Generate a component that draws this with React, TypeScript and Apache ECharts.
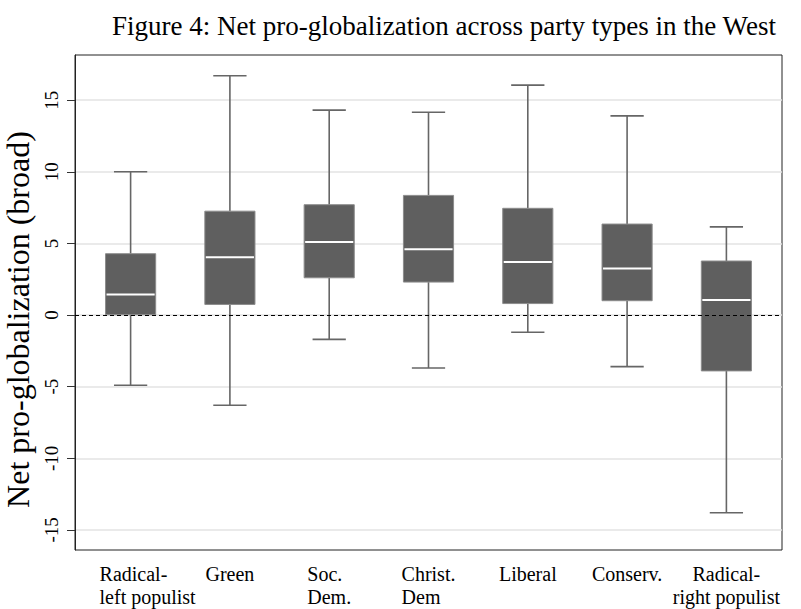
import React, { useEffect, useRef } from "react";
import * as echarts from "echarts";

const categories = [
  "Radical-\nleft populist",
  "Green",
  "Soc.\nDem.",
  "Christ.\nDem",
  "Liberal",
  "Conserv.",
  "Radical-\nright populist",
];
const whiskerLow = [-4.9, -6.3, -1.7, -3.7, -1.2, -3.6, -13.8];
const q1 = [0.02, 0.74, 2.6, 2.3, 0.8, 1.0, -3.9];
const median = [1.43, 4.03, 5.1, 4.6, 3.7, 3.25, 1.05];
const q3 = [4.28, 7.25, 7.7, 8.35, 7.45, 6.35, 3.77];
const whiskerHigh = [10.0, 16.7, 14.3, 14.15, 16.05, 13.9, 6.15];
const yTicks = [-15, -10, -5, 0, 5, 10, 15];

const FONT = "'Liberation Serif', 'Times New Roman', serif";

export default function App() {
  const ref = useRef<HTMLDivElement>(null);
  useEffect(() => {
    if (!ref.current) return;
    const chart = echarts.init(ref.current, undefined, { renderer: "svg" });
    const data = categories.map((_, i) => [
      i + 1,
      whiskerLow[i],
      q1[i],
      median[i],
      q3[i],
      whiskerHigh[i],
    ]);
    const catPositions = categories.map((_, i) => i + 1);
    const labelStyle = { fontFamily: FONT, fontSize: 20, lineHeight: 22.4, color: "#000" };
    chart.setOption({
      animation: false,
      backgroundColor: "#fff",
      title: {
        text: "Figure 4: Net pro-globalization across party types in the West",
        left: 107,
        top: 7,
        textStyle: { fontFamily: FONT, fontSize: 27, fontWeight: "normal", color: "#000" },
      },
      grid: {
        left: 75,
        right: 19,
        top: 55,
        bottom: 59,
        show: true,
        borderColor: "#222",
        borderWidth: 1,
        backgroundColor: "#fff",
        containLabel: false,
        outerBoundsMode: "none",
      },
      xAxis: {
        type: "value",
        min: 0.44,
        max: 7.56,
        splitLine: { show: false },
        axisLine: { show: false },
        axisTick: { show: false, customValues: catPositions },
        axisLabel: {
          customValues: catPositions,
          hideOverlap: false,
          showMinLabel: true,
          showMaxLabel: true,
          formatter: (v: number) => {
            const i = Math.round(v) - 1;
            const c = categories[i] ?? "";
            const style = i === 0 ? "p" : i === 6 ? "c" : "l";
            return c
              .split("\n")
              .map((s) => `{${style}|${s}}`)
              .join("\n");
          },
          margin: 13,
          color: "#000",
          fontFamily: FONT,
          fontSize: 20,
          rich: {
            l: { ...labelStyle, align: "left" },
            p: { ...labelStyle, align: "left", padding: [0, 0, 0, 34] },
            c: { ...labelStyle, align: "center" },
          },
        },
      },
      yAxis: {
        type: "value",
        min: -16.4,
        max: 18.15,
        name: "Net pro-globalization (broad)",
        nameLocation: "middle",
        nameRotate: 90,
        nameGap: 38,
        nameTextStyle: { fontFamily: FONT, fontSize: 32, color: "#000", padding: [0, 34, 0, 0] },
        axisLine: { show: true, lineStyle: { color: "#222", width: 1 } },
        axisTick: {
          show: true,
          length: 8,
          customValues: yTicks,
          lineStyle: { color: "#333", width: 1 },
        },
        axisLabel: {
          customValues: yTicks,
          rotate: 90,
          margin: 14,
          fontFamily: FONT,
          fontSize: 19,
          color: "#000",
        },
        splitLine: { show: true, lineStyle: { color: "#e3e3e3", width: 1.5 } },
      },
      series: [
        {
          type: "custom",
          data,
          renderItem: (params: any, api: any) => {
            const x = api.value(0);
            const lo = api.coord([x, api.value(1)]);
            const b1 = api.coord([x, api.value(2)]);
            const md = api.coord([x, api.value(3)]);
            const b3 = api.coord([x, api.value(4)]);
            const hi = api.coord([x, api.value(5)]);
            const boxW = api.size([0.505, 0])[0];
            const capW = api.size([0.335, 0])[0];
            const cx = lo[0];
            const wStyle = { stroke: "#666", lineWidth: 1.6 };
            return {
              type: "group",
              children: [
                { type: "line", shape: { x1: cx, y1: hi[1], x2: cx, y2: b3[1] }, style: wStyle },
                { type: "line", shape: { x1: cx, y1: b1[1], x2: cx, y2: lo[1] }, style: wStyle },
                { type: "line", shape: { x1: cx - capW / 2, y1: hi[1], x2: cx + capW / 2, y2: hi[1] }, style: wStyle },
                { type: "line", shape: { x1: cx - capW / 2, y1: lo[1], x2: cx + capW / 2, y2: lo[1] }, style: wStyle },
                {
                  type: "rect",
                  shape: { x: cx - boxW / 2, y: b3[1], width: boxW, height: b1[1] - b3[1] },
                  style: { fill: "#5f5f5f", stroke: "#8c8c8c", lineWidth: 1 },
                },
                {
                  type: "line",
                  shape: { x1: cx - boxW / 2 + 1, y1: md[1], x2: cx + boxW / 2 - 1, y2: md[1] },
                  style: { stroke: "#fff", lineWidth: 2 },
                },
              ],
            };
          },
          z: 3,
        },
        {
          type: "line",
          data: [],
          markLine: {
            silent: true,
            symbol: "none",
            label: { show: false },
            lineStyle: { color: "#000", type: [4, 3], width: 1 },
            data: [{ yAxis: 0 }],
          },
          z: 2,
        },
      ],
    });
    return () => chart.dispose();
  }, []);
  return (
    <div
      ref={ref}
      style={{ position: "fixed", left: 0, top: 0, width: 801, height: 609 }}
    />
  );
}
